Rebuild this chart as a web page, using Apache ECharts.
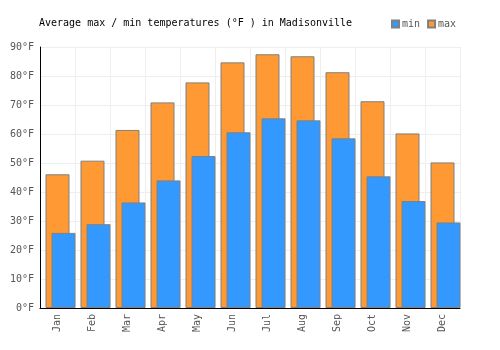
<!DOCTYPE html>
<html>
<head>
<meta charset="utf-8">
<script src="https://cdn.jsdelivr.net/npm/echarts@6/dist/echarts.min.js"></script>
<style>html,body{margin:0;padding:0;background:#fff;}#c{width:500px;height:350px;}</style>
</head>
<body>
<div id="c"></div>
<script>
var months = ['Jan','Feb','Mar','Apr','May','Jun','Jul','Aug','Sep','Oct','Nov','Dec'];
var minTemps = [25.9, 28.9, 36.4, 44.0, 52.4, 60.6, 65.4, 64.7, 58.5, 45.4, 36.9, 29.5];
var maxTemps = [46.1, 50.8, 61.4, 70.9, 77.8, 84.7, 87.5, 86.8, 81.3, 71.3, 60.2, 50.2];
var padValues = months.map(function () { return null; });
var titleText = 'Average max / min temperatures (\u00B0F ) in Madisonville';

var FONT = 'DejaVu Sans Mono';
var chart = echarts.init(document.getElementById('c'), null, {renderer: 'canvas'});
chart.setOption({
  animation: false,
  backgroundColor: '#fff',
  title: {
    text: titleText,
    left: 39, top: 18, padding: 0,
    textStyle: {fontFamily: FONT, fontSize: 10, fontWeight: 'normal', color: '#000'}
  },
  legend: {
    data: ['min', 'max'],
    left: 391, top: 19, padding: 0,
    itemWidth: 7, itemHeight: 7, itemGap: 7,
    icon: 'rect',
    textStyle: {fontFamily: FONT, fontSize: 10, color: '#555', padding: [0, 0, 0, -2]}
  },
  grid: {left: 40, right: 40, top: 47, bottom: 42, containLabel: false},
  xAxis: {
    type: 'category',
    data: months,
    axisLine: {lineStyle: {color: '#000', width: 1}},
    axisTick: {show: false},
    axisLabel: {rotate: 90, margin: 6, color: '#555', fontFamily: FONT, fontSize: 10},
    splitLine: {show: true, interval: 0, lineStyle: {color: '#eeeeee', width: 1}}
  },
  yAxis: {
    type: 'value',
    min: 0, max: 90, interval: 10,
    axisLine: {show: true, lineStyle: {color: '#000', width: 1}},
    axisTick: {show: false},
    axisLabel: {formatter: '{value}\u00B0F', margin: 6, color: '#555', fontFamily: FONT, fontSize: 10},
    splitLine: {show: true, lineStyle: {color: '#eeeeee', width: 1}}
  },
  series: [
    {name: '_pad', type: 'bar', data: padValues, barWidth: 24, barGap: '-75%', silent: true,
     itemStyle: {color: 'rgba(0,0,0,0)'}},
    {name: 'max', type: 'bar', data: maxTemps, barWidth: 24, barGap: '-75%',
     itemStyle: {color: '#FF9933', borderColor: '#808080', borderWidth: 1}},
    {name: 'min', type: 'bar', data: minTemps, barWidth: 24, barGap: '-75%',
     itemStyle: {color: '#3399FF', borderColor: '#808080', borderWidth: 1}}
  ]
});
</script>
</body>
</html>
